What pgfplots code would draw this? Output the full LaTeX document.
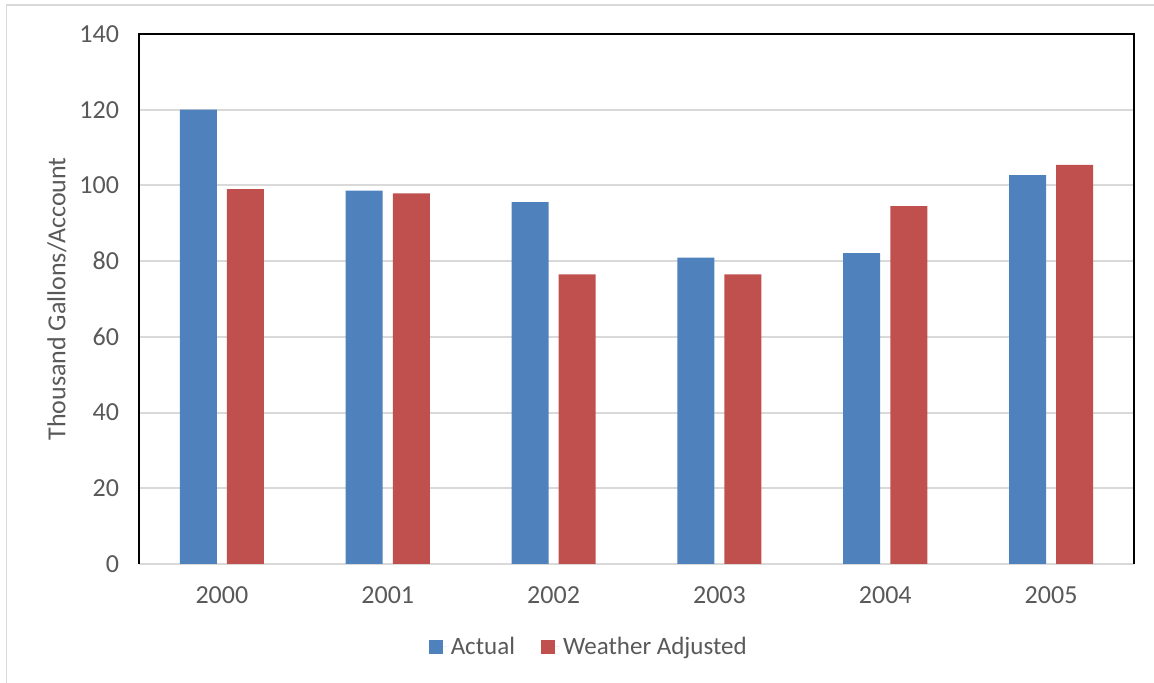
\documentclass[border=0pt]{standalone}
\usepackage{fontspec}
\setmainfont{Carlito}
\usepackage{pgfplots}
\pgfplotsset{compat=1.18}
\definecolor{actual}{HTML}{4F81BD}
\definecolor{weather}{HTML}{C0504D}
\definecolor{txt}{HTML}{595959}
\definecolor{grd}{HTML}{D9D9D9}
\begin{document}
\begin{tikzpicture}
\useasboundingbox (0,0) rectangle (577pt,341.5pt);
\draw[grd, line width=0.75pt] (3.25pt,0) -- (3.25pt,339pt) -- (577pt,339pt);
\begin{axis}[
    at={(69.5pt,59.5pt)}, anchor=south west,
    scale only axis, width=497.5pt, height=265pt,
    ybar,
    ymin=0, ymax=140, ytick={0,20,...,140},
    xmin=-0.5, xmax=5.5,
    xtick={0,...,5},
    xticklabels={2000,2001,2002,2003,2004,2005},
    major tick length=0pt,
    axis line style={draw=none},
    ymajorgrids, grid style={grd, line width=1pt},
    font=\fontsize{13}{15}\selectfont,
    tick label style={txt},
    /pgf/number format/assume math mode=true,
    yticklabel shift=6.5pt,
    xticklabel shift=8pt,
    ylabel={Thousand Gallons/Account},
    every axis y label/.style={at={(axis description cs:-0.0824,0.5)}, rotate=90, anchor=center, txt},
    bar width=0.223,
    legend columns=2,
    legend style={draw=none, fill=none, at={(axis description cs:0.453,-0.1566)}, anchor=center, font=\fontsize{12.5}{15}\selectfont, text=txt,
        /tikz/every even column/.append style={column sep=11pt}},
    legend image code/.code={\fill[#1] (0pt,-3.5pt) rectangle (7pt,3.5pt); \path (0pt,0pt) -- (9pt,0pt);},
    after end axis/.code={
        \draw[black, line width=1pt] (rel axis cs:0,0) -- (rel axis cs:0,1) -- (rel axis cs:1,1) -- (rel axis cs:1,0);
    },
]
\addplot[fill=actual, draw=none, bar shift=-0.142] coordinates {(0,120) (1,98.6) (2,95.6) (3,80.9) (4,82.1) (5,102.7)};
\addplot[fill=weather, draw=none, bar shift=0.142] coordinates {(0,99.0) (1,97.9) (2,76.5) (3,76.5) (4,94.5) (5,105.4)};
\legend{Actual, Weather Adjusted}
\end{axis}
\end{tikzpicture}
\end{document}
